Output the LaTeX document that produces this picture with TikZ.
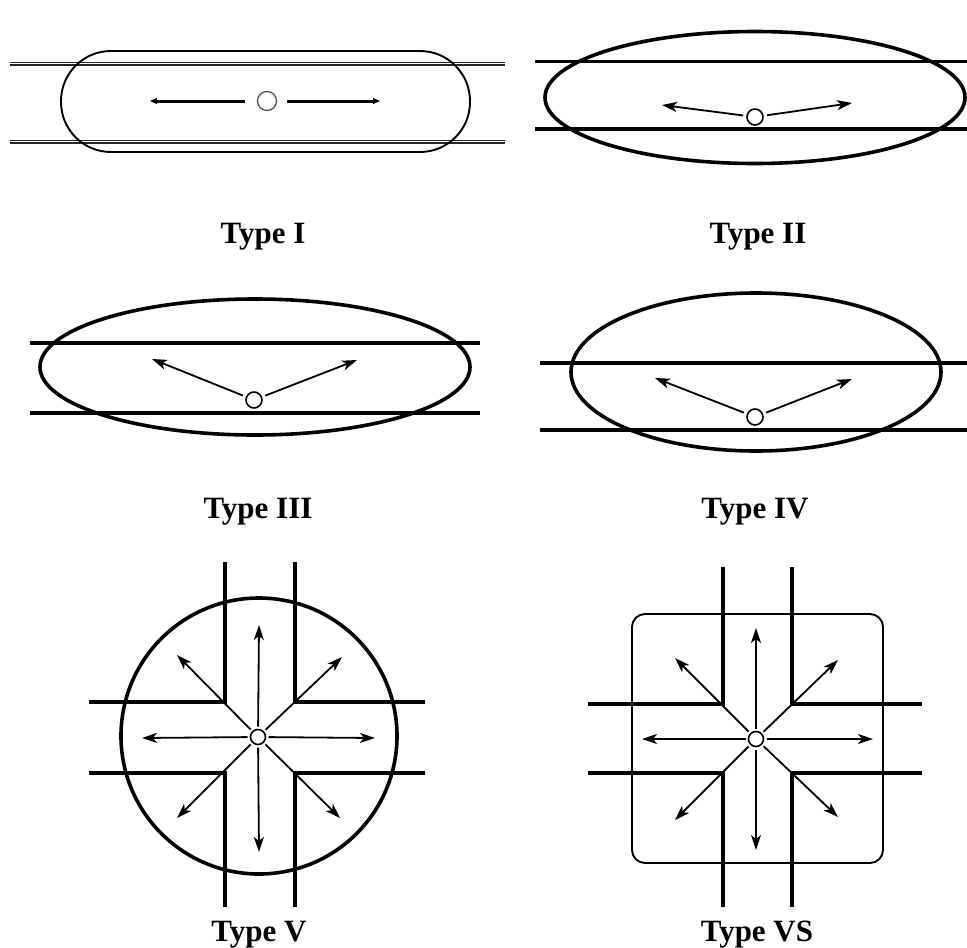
\documentclass[tikz,border=0pt]{standalone}
\usepackage{fontspec}
\setmainfont{Liberation Serif}
\usetikzlibrary{arrows.meta}
\begin{document}
\begin{tikzpicture}[x=1pt,y=-1pt,
  struct/.style={line width=3.4pt},
  outline/.style={line width=3.6pt},
  thinout/.style={line width=1.9pt},
  arr/.style={line width=1.8pt,-{Stealth[length=15pt,width=10pt,inset=4pt]}},
  arrone/.style={line width=3pt,-{Stealth[length=7pt,width=6pt,inset=1pt]}},
  hole/.style={circle,draw,line width=1.6pt,minimum size=16pt,inner sep=0pt,outer sep=4pt},
  lbl/.style={font=\fontsize{31}{36}\selectfont\bfseries,anchor=base,inner sep=0pt}]
\useasboundingbox (0,0) rectangle (967,948);

% ---------- Type I ----------
\draw[line width=1.2pt,double distance=1.6pt,draw=black!85] (10,63.5) -- (505,63.5);
\draw[line width=1.2pt,double distance=1.6pt,draw=black!85] (10,141.5) -- (505,141.5);
\draw[thinout,rounded corners=50pt] (61,51) rectangle (470,152);
\node[hole,minimum size=19pt,line width=1.2pt,outer sep=0pt,draw=black!70] (c1) at (267,101) {};
\coordinate (c1s) at (245,101);
\coordinate (c1e) at (287,101);
\coordinate (a1l) at (150,101);
\coordinate (a1r) at (380,101);
\draw[arrone] (c1s) -- (a1l);
\draw[arrone] (c1e) -- (a1r);
\node[lbl] (t1) at (263,243) {Type I};

% ---------- Type II ----------
\draw[struct] (535,61.5) -- (967,61.5);
\draw[struct] (535,129) -- (967,129);
\draw[outline] (755,97.5) ellipse [x radius=210, y radius=66];
\node[hole] (c2) at (755,117) {};
\coordinate (a2l) at (662,105);
\coordinate (a2r) at (852,103);
\draw[arr] (c2) -- (a2l);
\draw[arr] (c2) -- (a2r);
\node[lbl] (t2) at (758,243) {Type II};

% ---------- Type III ----------
\draw[struct] (30,343) -- (480,343);
\draw[struct] (30,413) -- (480,413);
\draw[outline] (255,367) ellipse [x radius=215, y radius=68];
\node[hole] (c3) at (254,400) {};
\coordinate (a3l) at (152,359);
\coordinate (a3r) at (357,360);
\draw[arr] (c3) -- (a3l);
\draw[arr] (c3) -- (a3r);
\node[lbl] (t3) at (258,518) {Type III};

% ---------- Type IV ----------
\draw[struct] (540,363) -- (967,363);
\draw[struct] (540,430) -- (967,430);
\draw[outline] (756,372) ellipse [x radius=185, y radius=79];
\node[hole] (c4) at (755,417) {};
\coordinate (a4l) at (655,378);
\coordinate (a4r) at (852,379);
\draw[arr] (c4) -- (a4l);
\draw[arr] (c4) -- (a4r);
\node[lbl] (t4) at (755,518) {Type IV};

% ---------- Type V ----------
\draw[outline] (259,736) circle [radius=138];
\draw[struct] (225,562) -- (225,702) -- (89,702);
\draw[struct] (295,562) -- (295,702) -- (425,702);
\draw[struct] (89,773) -- (225,773) -- (225,907);
\draw[struct] (425,773) -- (295,773) -- (295,907);
\node[hole,minimum size=15pt,outer sep=3pt] (c5) at (258,737) {};
\coordinate (a5n) at (259,625);
\coordinate (a5s) at (259,852);
\coordinate (a5w) at (142,738);
\coordinate (a5e) at (375,738);
\coordinate (a5nw) at (177,655);
\coordinate (a5ne) at (342,657);
\coordinate (a5sw) at (177,818);
\coordinate (a5se) at (340,818);
\foreach \d in {n,s,w,e,nw,ne,sw,se} \draw[arr] (c5) -- (a5\d);
\node[lbl] (t5) at (259,941) {Type V};

% ---------- Type VS ----------
\draw[thinout,rounded corners=13pt] (632,614) rectangle (883,863);
\draw[struct] (723,567) -- (723,704) -- (588,704);
\draw[struct] (792,567) -- (792,704) -- (922,704);
\draw[struct] (588,773) -- (723,773) -- (723,907);
\draw[struct] (922,773) -- (792,773) -- (792,907);
\node[hole,minimum size=15pt,outer sep=3pt] (c6) at (756,739) {};
\coordinate (a6n) at (756,628);
\coordinate (a6s) at (756,850);
\coordinate (a6w) at (642,739);
\coordinate (a6e) at (873,739);
\coordinate (a6nw) at (675,658);
\coordinate (a6ne) at (838,660);
\coordinate (a6sw) at (675,820);
\coordinate (a6se) at (838,817);
\foreach \d in {n,s,w,e,nw,ne,sw,se} \draw[arr] (c6) -- (a6\d);
\node[lbl] (t6) at (757,941) {Type VS};
\end{tikzpicture}
\end{document}
